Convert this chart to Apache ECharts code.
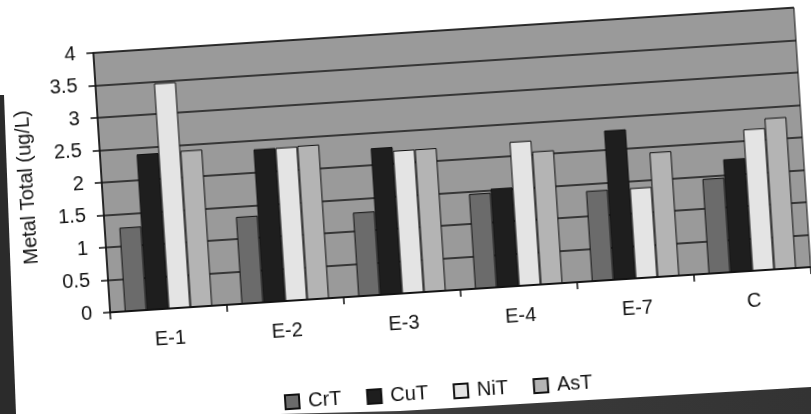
<!DOCTYPE html>
<html>
<head>
<meta charset="utf-8">
<script src="https://cdn.jsdelivr.net/npm/echarts@6/dist/echarts.min.js"></script>
<style>
  html, body { margin: 0; padding: 0; background: #ffffff; width: 811px; height: 414px; overflow: hidden; }
  #chart { position: absolute; left: 0; top: 0; width: 811px; height: 414px;
           transform-origin: 452px 160px; transform: rotate(-3.7deg); }
  .scan { position: absolute; left: 0; top: 0; width: 811px; height: 414px; z-index: 5; pointer-events: none; }
  #edgeL { background: #2b2b2b; clip-path: polygon(0px 95px, 4px 95px, 16px 414px, 0px 414px); }
  #edgeB { background: linear-gradient(90deg, #555 0%, #3a3a3a 60%, #333 100%);
           clip-path: polygon(280px 414px, 400px 411px, 811px 387px, 811px 414px); }
</style>
</head>
<body>
<div id="chart"></div>
<div id="edgeL" class="scan"></div>
<div id="edgeB" class="scan"></div>
<script>
const categories = ['E-1', 'E-2', 'E-3', 'E-4', 'E-7', 'C'];
const seriesNames = ['CrT', 'CuT', 'NiT', 'AsT'];
const CrT = [1.29, 1.34, 1.29, 1.46, 1.39, 1.46];
const CuT = [2.40, 2.36, 2.26, 1.52, 2.30, 1.74];
const NiT = [3.47, 2.36, 2.20, 2.22, 1.39, 2.18];
const AsT = [2.41, 2.37, 2.20, 2.05, 1.92, 2.33];
const yTicks = [0, 0.5, 1, 1.5, 2, 2.5, 3, 3.5, 4];
const yName = 'Metal Total (ug/L)';

const values = [CrT, CuT, NiT, AsT];
const fills = ['#6b6b6b', '#1e1e1e', '#e4e4e4', '#b4b4b4'];
const FONT = '"Liberation Sans", Arial, sans-serif';
const FS = 20;

const chart = echarts.init(document.getElementById('chart'), null, { renderer: 'canvas' });
chart.setOption({
  backgroundColor: 'transparent',
  animation: false,
  textStyle: { fontFamily: FONT },
  grid: {
    left: 101, right: 8, top: 30, bottom: 124,
    show: true, backgroundColor: '#9a9a9a', borderColor: '#111', borderWidth: 1
  },
  legend: {
    data: seriesNames,
    left: 264, top: 376,
    itemWidth: 14, itemHeight: 14, itemGap: 25,
    icon: 'rect',
    textStyle: { fontFamily: FONT, fontSize: FS, color: '#111', padding: [0, 0, 0, 4] }
  },
  xAxis: {
    type: 'category',
    data: categories,
    boundaryGap: true,
    axisLine: { show: true, lineStyle: { color: '#111', width: 1.5 } },
    axisTick: { show: true, inside: false, length: 7, lineStyle: { color: '#111', width: 1.5 } },
    axisLabel: { fontFamily: FONT, fontSize: FS, color: '#111', margin: 20, interval: 0 },
    splitLine: { show: false }
  },
  yAxis: {
    type: 'value',
    min: yTicks[0], max: yTicks[yTicks.length - 1], interval: 0.5,
    name: yName,
    nameLocation: 'middle',
    nameGap: 65,
    nameRotate: 90,
    nameTextStyle: { fontFamily: FONT, fontSize: FS, color: '#111' },
    axisLine: { show: true, lineStyle: { color: '#111', width: 1.5 } },
    axisTick: { show: true, inside: false, length: 7, lineStyle: { color: '#111', width: 1.5 } },
    axisLabel: { fontFamily: FONT, fontSize: FS, color: '#111', margin: 18 },
    splitLine: { show: true, lineStyle: { color: '#161616', width: 1.6 } }
  },
  series: seriesNames.map((name, i) => ({
    name: name,
    type: 'bar',
    data: values[i],
    barGap: '0%',
    barCategoryGap: '25%',
    itemStyle: { color: fills[i], borderColor: '#111', borderWidth: 1 }
  }))
});
</script>
</body>
</html>
